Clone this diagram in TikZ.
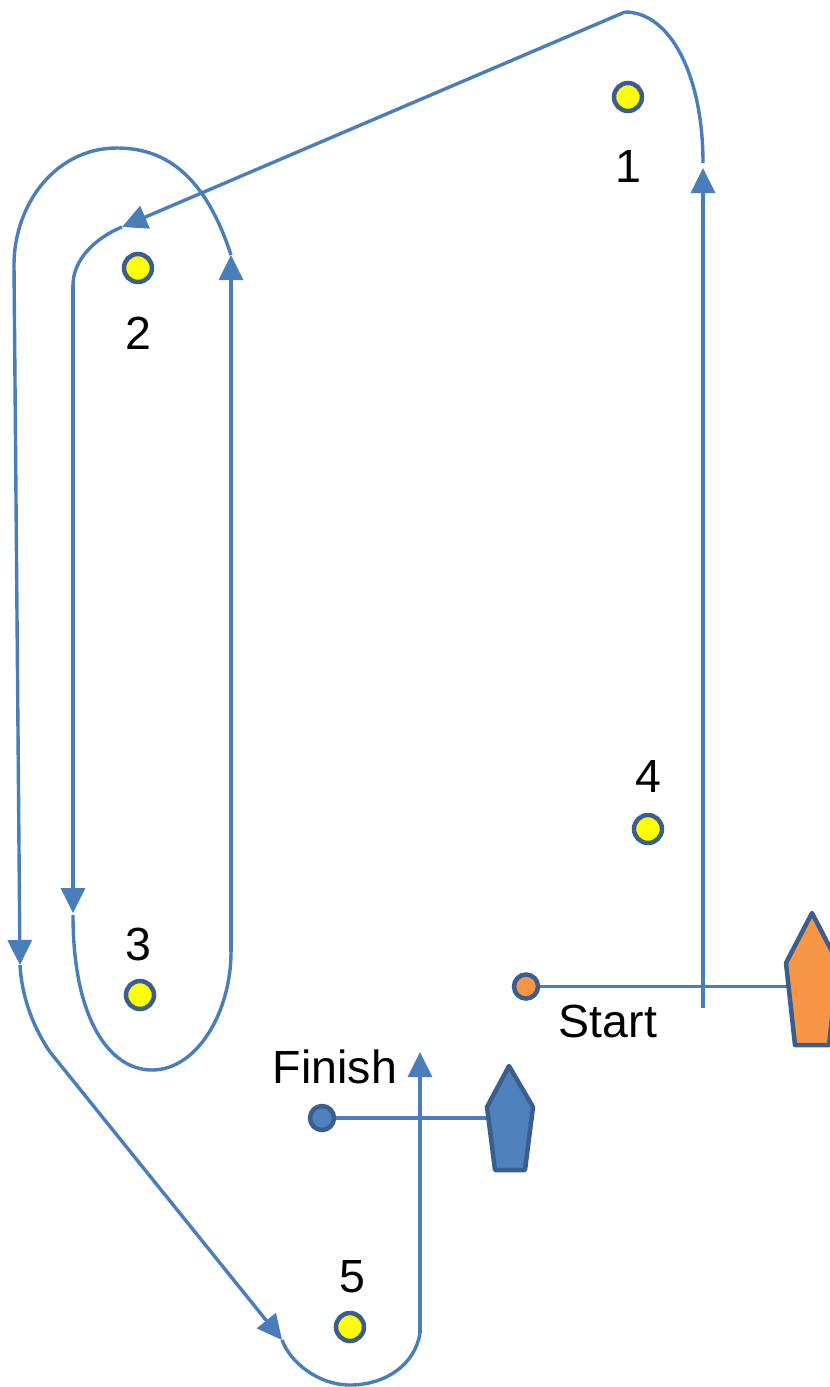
\documentclass[tikz,border=0pt]{standalone}
\usepackage{fontspec}
\setmainfont{Liberation Sans}
\usetikzlibrary{arrows.meta}
\definecolor{route}{HTML}{4A7EBB}
\definecolor{rim}{HTML}{3A5F8F}
\definecolor{markfill}{HTML}{FFFF00}
\definecolor{bluefill}{HTML}{4F81BD}
\definecolor{orangefill}{HTML}{F79646}
\tikzset{
  course/.style={draw=route, line width=3.4pt},
  arr/.style={course, -{Triangle[length=25pt,width=24pt]}},
  buoy/.style={circle, draw=rim, fill=markfill, line width=4.5pt, minimum size=28pt, inner sep=0pt},
  endbuoy/.style={circle, draw=rim, line width=4.5pt, minimum size=24pt, inner sep=0pt},
  lbl/.style={font=\fontsize{46.5}{56}\selectfont, anchor=base, inner sep=0pt},
  boat/.style={draw=rim, line width=4.5pt, line join=round},
}
\begin{document}
\begin{tikzpicture}[x=1pt,y=-1pt]
\useasboundingbox (0,0) rectangle (830,1387);
% marks
\node[buoy] (m1) at (628,97) {};
\node[buoy] (m2) at (138,268) {};
\node[buoy] (m3) at (140,995) {};
\node[buoy] (m4) at (648,829) {};
\node[buoy] (m5) at (350,1327) {};
\node[lbl] (l1) at (628,182) {1};
\node[lbl] (l2) at (138,349) {2};
\node[lbl] (l3) at (138,960) {3};
\node[lbl] (l4) at (648,792) {4};
\node[lbl] (l5) at (352,1292) {5};
\node[lbl] (ls) at (608,1037) {Start};
\node[lbl] (lf) at (335,1083) {Finish};
% route coordinates
\coordinate (sb) at (703,1008);
\coordinate (a1) at (703,168);
\coordinate (a1s) at (703,163);
\coordinate (tp) at (625,12);
\coordinate (a2) at (122,227);
\coordinate (i2s) at (73,285);
\coordinate (a3) at (73,913);
\coordinate (u3s) at (73,915);
\coordinate (u3b) at (152,1070);
\coordinate (u3e) at (231,952);
\coordinate (a4) at (231,255);
\coordinate (o2t) at (117,148);
\coordinate (o2e) at (14,265);
\coordinate (a5) at (20,965);
\coordinate (kk) at (50,1052);
\coordinate (a6) at (282,1340);
\coordinate (b5) at (350,1385);
\coordinate (f5) at (420,1333);
\coordinate (a7) at (420,1052);
% route
\draw[arr] (sb) -- (a1);
\draw[course] (a1s) .. controls (703,75) and (670,12) .. (tp);
\draw[arr] (tp) -- (a2);
\draw[course] (i2s) .. controls (73,260) and (95,238) .. (a2);
\draw[arr] (i2s) -- (a3);
\draw[course] (u3s) .. controls (73,1020) and (110,1070) .. (u3b) .. controls (197,1070) and (231,1012) .. (u3e);
\draw[arr] (u3e) -- (a4);
\draw[course] (a4) .. controls (205,175) and (165,148) .. (o2t) .. controls (55,148) and (14,205) .. (o2e);
\draw[arr] (o2e) -- (a5);
\draw[course] (a5) .. controls (22,1000) and (35,1030) .. (kk);
\draw[arr] (kk) -- (a6);
\draw[course] (a6) .. controls (290,1362) and (318,1385) .. (b5) .. controls (385,1385) and (415,1365) .. (f5);
\draw[arr] (f5) -- (a7);
% start line
\node[endbuoy, fill=orangefill] (sc) at (526,986.5) {};
\coordinate (ob) at (787,986.5);
\draw[course] (sc) -- (ob);
\draw[boat, fill=orangefill] (812,913) -- (838,963) -- (829,1045) -- (795,1045) -- (786,963) -- cycle;
% finish line
\node[endbuoy, fill=bluefill] (fc) at (322,1118) {};
\coordinate (bb) at (488,1118);
\draw[course] (fc) -- (bb);
\draw[boat, fill=bluefill] (509,1066) -- (533,1107) -- (525,1170) -- (495,1170) -- (487,1107) -- cycle;
\end{tikzpicture}
\end{document}
